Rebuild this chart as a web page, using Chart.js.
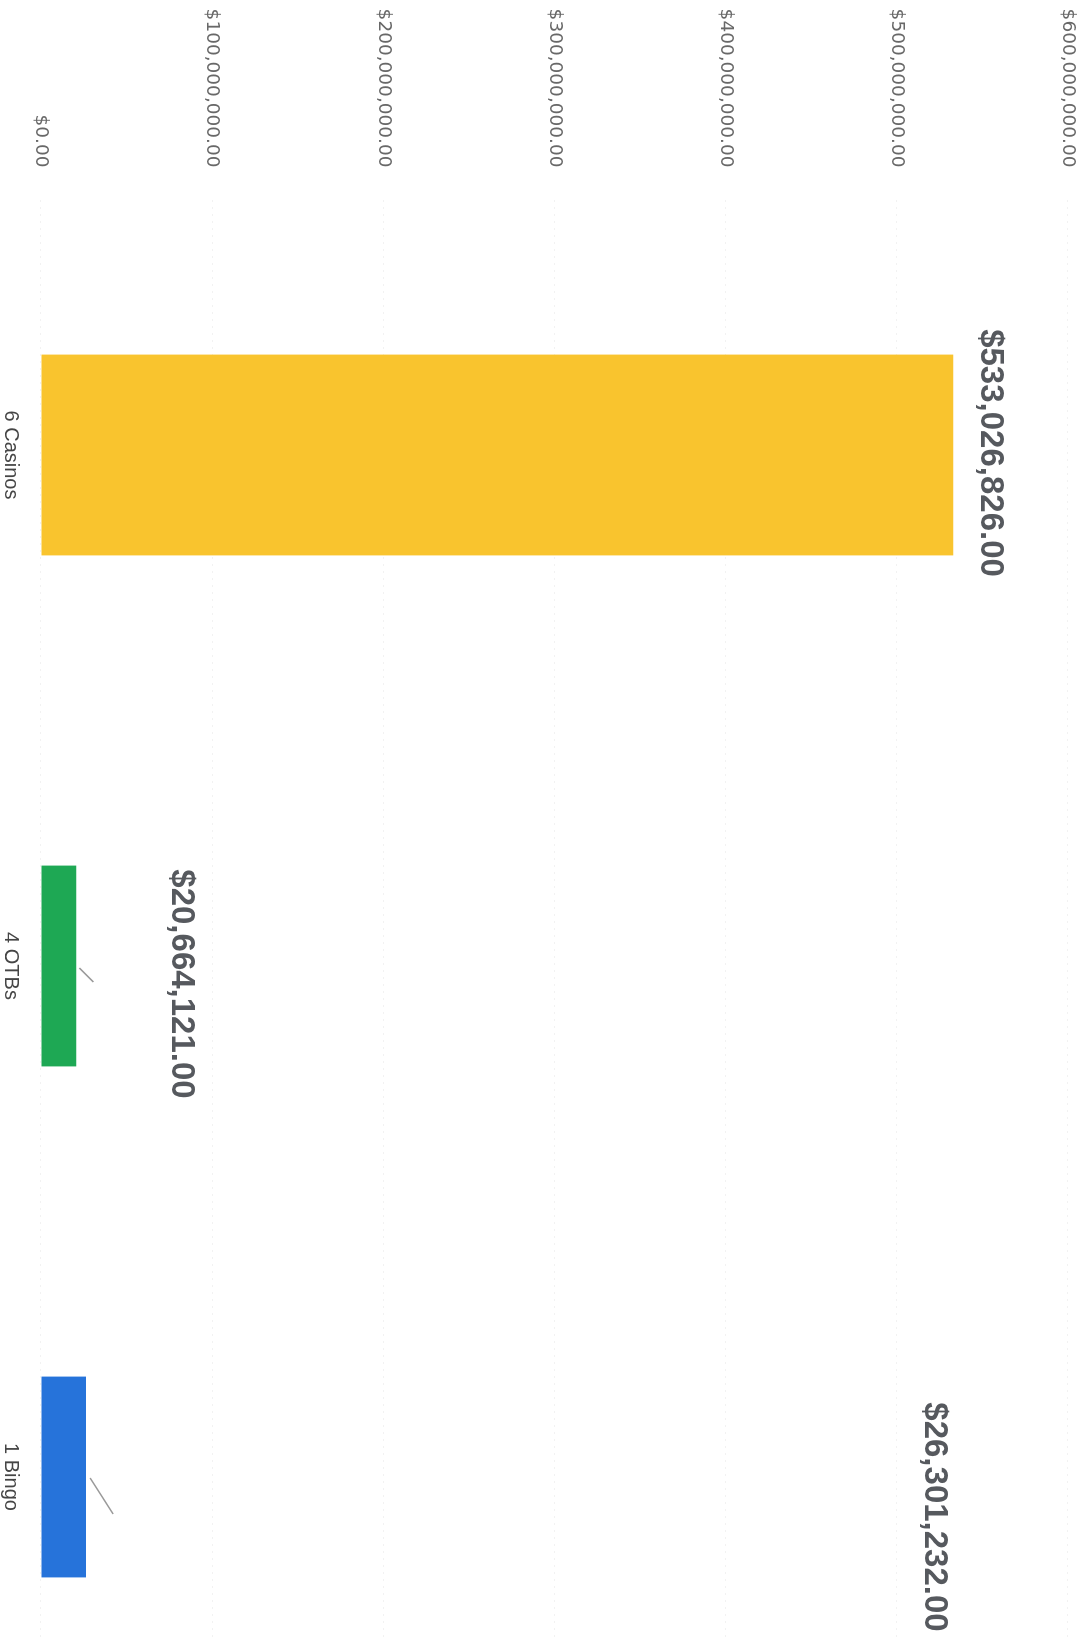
<!DOCTYPE html>
<html>
<head>
<meta charset="utf-8">
<script src="https://cdn.jsdelivr.net/npm/chart.js@4/dist/chart.umd.min.js"></script>
<style>
    html, body { margin: 0; padding: 0; background: #fff; overflow: hidden; width: 1081px; height: 1638px; }
    /* the scanned page is turned a quarter clockwise, so draw upright and rotate */
    #wrap { position: absolute; left: 0; top: 0; width: 1740px; height: 1081px;
            transform-origin: 0 0; transform: translateX(1081px) rotate(90deg); }
</style>
</head>
<body>
<div id="wrap"><canvas id="chart" width="1740" height="1081"></canvas></div>
<script>
'use strict';

var categories = ['6 Casinos', '4 OTBs', '1 Bingo'];
var revenue = [533026826, 20664121, 26301232];
var barColors = ['#f9c42e', '#1ea854', '#2673da'];
var axisMin = 0;
var axisMax = 600000000;
var axisStep = 100000000;

var money = function(v) {
    return '$' + Number(v).toLocaleString('en-US', { minimumFractionDigits: 2, maximumFractionDigits: 2 });
};

// value labels + the little leader marks next to the small bars
var barNotes = {
    id: 'barNotes',
    afterDatasetsDraw: function(chart, args, opts) {
        var ctx = chart.ctx;
        var meta = chart.getDatasetMeta(0);
        var y = chart.scales.y;
        ctx.save();
        meta.data.forEach(function(bar, i) {
            var stem = opts.stems[i];
            if (stem) {
                ctx.strokeStyle = opts.stemColor;
                ctx.lineWidth = 1.5;
                ctx.beginPath();
                ctx.moveTo(bar.x + stem[0], bar.y + stem[1]);
                ctx.lineTo(bar.x + stem[2], bar.y + stem[3]);
                ctx.stroke();
            }
            ctx.font = opts.font;
            ctx.fillStyle = opts.color;
            ctx.textAlign = 'center';
            ctx.textBaseline = 'middle';
            ctx.fillText(money(revenue[i]), bar.x + opts.shift[i], y.getPixelForValue(opts.labelAt[i]));
        });
        ctx.restore();
    }
};

var ctx = document.getElementById('chart').getContext('2d');
new Chart(ctx, {
    type: 'bar',
    data: {
        labels: categories,
        datasets: [{
            data: revenue,
            backgroundColor: barColors,
            borderWidth: 0,
            categoryPercentage: 1,
            barPercentage: 0.393
        }]
    },
    options: {
        responsive: false,
        animation: false,
        devicePixelRatio: 1,
        layout: { padding: { top: 13, right: 7.5, left: 0, bottom: 0 } },
        plugins: {
            legend: { display: false },
            tooltip: { enabled: false },
            barNotes: {
                font: 'bold 33px "Liberation Sans", Arial, sans-serif',
                color: '#56595e',
                stemColor: '#9a9a9a',
                labelAt: [554400000, 81800000, 522000000],
                shift: [-2, 18, 40],
                stems: [null, [2, -3, 16, -17], [1, -4, 37, -27]]
            }
        },
        scales: {
            x: {
                grid: { display: false, drawTicks: false },
                border: { display: false },
                ticks: {
                    padding: 18,
                    color: '#454545',
                    font: { family: '"Liberation Sans", Arial, sans-serif', size: 20 }
                },
                afterFit: function(axis) {
                    axis.height = 41;
                    axis.paddingLeft = 0;
                    axis.paddingRight = 0;
                }
            },
            y: {
                min: axisMin,
                max: axisMax,
                grid: { color: 'rgba(0,0,0,0.05)', drawTicks: false },
                border: { display: false, dash: [2, 5] },
                ticks: {
                    stepSize: axisStep,
                    padding: 32,
                    color: '#686868',
                    font: { family: '"DejaVu Sans", sans-serif', size: 18.5 },
                    callback: function(v) { return money(v); }
                },
                afterFit: function(axis) {
                    axis.width = 199.5;
                    axis.paddingTop = 0;
                    axis.paddingBottom = 0;
                }
            }
        }
    },
    plugins: [barNotes]
});
</script>
</body>
</html>
